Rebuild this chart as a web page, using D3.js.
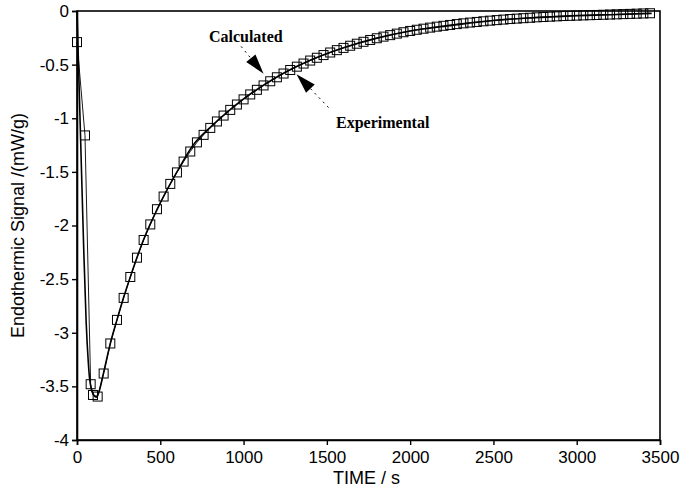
<!DOCTYPE html>
<html>
<head>
<meta charset="utf-8">
<script src="https://cdn.jsdelivr.net/npm/d3@7"></script>
<style>
  html, body { margin: 0; padding: 0; background: #fff; }
  svg { display: block; }
</style>
</head>
<body>
<div id="chart"></div>
<script>
// Heat-flow curve of an endothermic event: measured points and model fit.

const expTime = [0, 48, 82, 96, 124,
  160, 200, 240, 280, 320, 360, 400, 440, 480, 520, 560, 600, 640, 680, 720,
  760, 800, 840, 880, 920, 960, 1000, 1040, 1080, 1120, 1160, 1200, 1240, 1280,
  1320, 1360, 1400, 1440, 1480, 1520, 1560, 1600, 1640, 1680, 1720, 1760, 1800,
  1840, 1880, 1920, 1960, 2000, 2040, 2080, 2120, 2160, 2200, 2240, 2280, 2320,
  2360, 2400, 2440, 2480, 2520, 2560, 2600, 2640, 2680, 2720, 2760, 2800, 2840,
  2880, 2920, 2960, 3000, 3040, 3080, 3120, 3160, 3200, 3240, 3280, 3320, 3360,
  3400, 3440];

const expSignal = [-0.29, -1.16, -3.48, -3.58, -3.595,
  -3.38, -3.10, -2.88, -2.675, -2.48, -2.30, -2.135, -1.99, -1.848, -1.73, -1.612,
  -1.505, -1.404, -1.31, -1.225, -1.155, -1.090, -1.030, -0.975, -0.922, -0.872,
  -0.824, -0.778, -0.735, -0.694, -0.655, -0.618, -0.583, -0.550, -0.519, -0.490,
  -0.462, -0.436, -0.411, -0.387, -0.365, -0.344, -0.324, -0.305, -0.287, -0.270,
  -0.254, -0.239, -0.225, -0.211, -0.198, -0.186, -0.175, -0.165, -0.155, -0.146,
  -0.138, -0.130, -0.122, -0.115, -0.108, -0.102, -0.096, -0.090, -0.085, -0.080,
  -0.075, -0.071, -0.067, -0.063, -0.059, -0.056, -0.053, -0.050, -0.047, -0.045,
  -0.043, -0.041, -0.039, -0.037, -0.035, -0.033, -0.031, -0.029, -0.027, -0.025,
  -0.023, -0.021];

const calcTime = [0, 20, 40, 55, 68, 75, 85, 100, 115, 130, 160, 200, 240, 280,
  320, 400, 500, 600, 700, 800, 900, 1000, 1200, 1400, 1600, 1800, 2000, 2250,
  2500, 2750, 3000, 3250, 3450];

const calcSignal = [0, -1.1, -2.2, -2.9, -3.28, -3.42, -3.52, -3.58, -3.6, -3.56,
  -3.37, -3.10, -2.88, -2.67, -2.48, -2.13, -1.79, -1.50, -1.245, -1.085, -0.945,
  -0.82, -0.615, -0.46, -0.343, -0.253, -0.186, -0.134, -0.088, -0.062, -0.043,
  -0.032, -0.022];

const xTicks = [0, 500, 1000, 1500, 2000, 2500, 3000, 3500];
const yTicks = [0, -0.5, -1, -1.5, -2, -2.5, -3, -3.5, -4];

const xTitle = "TIME / s";
const yTitle = "Endothermic Signal /(mW/g)";

// Callouts: label text, label anchor, arrow tail and tip, all in data units.
const callouts = [
  { text: "Calculated",   tx: 792,  ty: -0.29, fromT: 985,  fromY: -0.33, toT: 1120, toY: -0.584 },
  { text: "Experimental", tx: 1555, ty: -1.093, fromT: 1510, fromY: -0.90, toT: 1318, toY: -0.589 }
];

const W = 682, H = 489;
const margin = { left: 77, right: 22, top: 11, bottom: 49 };

const svg = d3.select("#chart").append("svg")
  .attr("width", W).attr("height", H);

const x = d3.scaleLinear().domain([0, 3500]).range([margin.left, W - margin.right]);
const y = d3.scaleLinear().domain([-4, 0]).range([H - margin.bottom, margin.top]);

const sans = "'Liberation Sans', Arial, Helvetica, sans-serif";
const serif = "'Liberation Serif', 'Times New Roman', serif";

// Frame
svg.append("rect")
  .attr("x", x(0)).attr("y", y(0))
  .attr("width", x(3500) - x(0)).attr("height", y(-4) - y(0))
  .attr("fill", "none").attr("stroke", "#000").attr("stroke-width", 1.6);

// Axes
const xAxis = d3.axisBottom(x).tickValues(xTicks).tickSize(5).tickPadding(6)
  .tickFormat(d3.format("d"));
const yAxis = d3.axisLeft(y).tickValues(yTicks).tickSize(5).tickPadding(3)
  .tickFormat(d => d === 0 ? "0" : String(d));

const gx = svg.append("g").attr("transform", `translate(0,${y(-4)})`).call(xAxis);
const gy = svg.append("g").attr("transform", `translate(${x(0)},0)`).call(yAxis);

[gx, gy].forEach(g => {
  g.select(".domain").attr("stroke", "#000").attr("stroke-width", 1.6);
  g.selectAll(".tick line").attr("stroke", "#000").attr("stroke-width", 1.4);
  g.selectAll(".tick text")
    .attr("fill", "#000")
    .style("font-family", sans)
    .style("font-size", "17px");
});

// Axis titles
svg.append("text")
  .attr("x", (x(0) + x(3500)) / 2 - 2).attr("y", 484)
  .attr("text-anchor", "middle")
  .style("font-family", sans).style("font-size", "18px")
  .text(xTitle);

svg.append("text")
  .attr("transform", `translate(24,${(y(0) + y(-4)) / 2}) rotate(-90)`)
  .attr("text-anchor", "middle")
  .style("font-family", sans).style("font-size", "18px")
  .text(yTitle);

// Measured points joined by a thin trace
const expData = expTime.map((t, i) => ({ t, v: expSignal[i] }));
const calcData = calcTime.map((t, i) => ({ t, v: calcSignal[i] }));

svg.append("path")
  .datum(expData)
  .attr("fill", "none").attr("stroke", "#000").attr("stroke-width", 0.9)
  .attr("d", d3.line().x(d => x(d.t)).y(d => y(d.v)));

// Model curve
svg.append("path")
  .datum(calcData)
  .attr("fill", "none").attr("stroke", "#000").attr("stroke-width", 1.6)
  .attr("d", d3.line().curve(d3.curveMonotoneX).x(d => x(d.t)).y(d => y(d.v)));

// Open square markers
const s = 9;
svg.append("g").selectAll("rect")
  .data(expData)
  .join("rect")
  .attr("x", d => x(d.t) - s / 2)
  .attr("y", d => y(d.v) - s / 2)
  .attr("width", s).attr("height", s)
  .attr("fill", "none").attr("stroke", "#000").attr("stroke-width", 1);

// Callouts with dashed leaders and solid arrowheads
const headLen = 20, headHalf = 6;
callouts.forEach(c => {
  const x0 = x(c.fromT), y0 = y(c.fromY), x1 = x(c.toT), y1 = y(c.toY);
  const dx = x1 - x0, dy = y1 - y0, len = Math.hypot(dx, dy);
  const ux = dx / len, uy = dy / len;
  const bx = x1 - ux * headLen, by = y1 - uy * headLen;
  svg.append("line")
    .attr("x1", x0).attr("y1", y0).attr("x2", bx).attr("y2", by)
    .attr("stroke", "#000").attr("stroke-width", 1)
    .attr("stroke-dasharray", "2,4");
  svg.append("path")
    .attr("d", `M${x1},${y1}L${bx - uy * headHalf},${by + ux * headHalf}L${bx + uy * headHalf},${by - ux * headHalf}Z`)
    .attr("fill", "#000");
  svg.append("text")
    .attr("x", x(c.tx)).attr("y", y(c.ty))
    .style("font-family", serif).style("font-weight", "bold").style("font-size", "16px")
    .text(c.text);
});
</script>
</body>
</html>
